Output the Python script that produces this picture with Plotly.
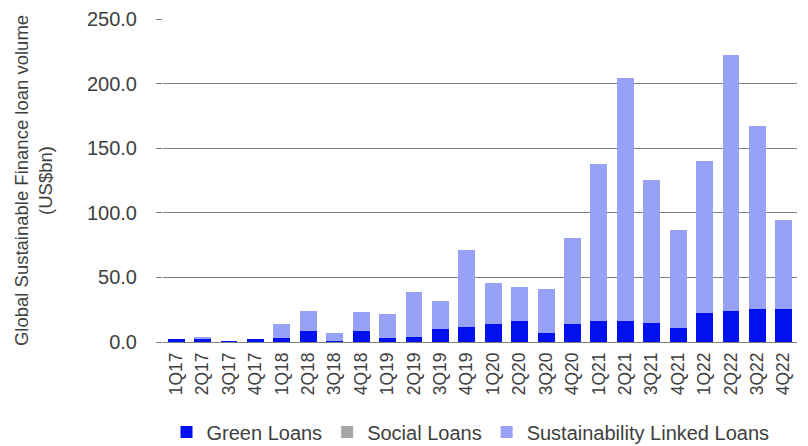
import plotly.graph_objects as go

quarters = ["1Q17", "2Q17", "3Q17", "4Q17", "1Q18", "2Q18", "3Q18", "4Q18",
            "1Q19", "2Q19", "3Q19", "4Q19", "1Q20", "2Q20", "3Q20", "4Q20",
            "1Q21", "2Q21", "3Q21", "4Q21", "1Q22", "2Q22", "3Q22", "4Q22"]

green_loans = [2.3, 2.5, 0.3, 2.3, 3.1, 8.5, 0.5, 8.5,
               3.0, 4.0, 10.3, 12.0, 14.2, 16.0, 6.7, 14.2,
               16.0, 16.0, 15.0, 11.0, 22.2, 24.2, 25.8, 25.8]

social_loans = [0.0] * 24

sll_loans = [0.0, 1.1, 0.0, 0.0, 10.9, 15.5, 6.2, 14.7,
             19.0, 34.7, 21.2, 59.0, 31.7, 26.3, 34.6, 66.0,
             121.5, 188.0, 110.4, 75.7, 117.8, 198.2, 141.4, 68.4]

y_ticks = [0, 50, 100, 150, 200, 250]
y_tick_labels = ["0.0", "50.0", "100.0", "150.0", "200.0", "250.0"]

font_family = "Liberation Sans, Arial, sans-serif"
text_color = "#404040"

fig = go.Figure()
fig.add_trace(go.Bar(name="Green Loans", x=quarters, y=green_loans,
                     marker=dict(color="#0010EE", line=dict(width=0))))
fig.add_trace(go.Bar(name="Social Loans", x=quarters, y=social_loans,
                     marker=dict(color="#A6A6A6", line=dict(width=0))))
fig.add_trace(go.Bar(name="Sustainability Linked Loans", x=quarters, y=sll_loans,
                     marker=dict(color="#97A2F7", line=dict(width=0))))

# page body has an 8px default margin; size the figure to fit the window
fig.update_layout(
    barmode="stack",
    bargap=0.36,
    width=800, height=438,
    margin=dict(l=155, r=11, t=11, b=104, autoexpand=False),
    paper_bgcolor="white", plot_bgcolor="white",
    font=dict(family=font_family, color=text_color, size=18),
    showlegend=True,
    legend=dict(orientation="h", x=0.485, xanchor="center", y=-0.279, yanchor="middle",
                font=dict(size=20, color=text_color), traceorder="normal",
                itemwidth=30, bgcolor="rgba(0,0,0,0)"),
    xaxis=dict(tickangle=-90, tickfont=dict(size=17.5, color=text_color),
               showgrid=False, showline=False, ticks="", type="category",
               ticklabelstandoff=6, automargin=False),
    yaxis=dict(range=[0, 250], tickvals=y_ticks, ticktext=y_tick_labels,
               tickfont=dict(size=20, color=text_color),
               showgrid=True, gridcolor="#7F7F7F", gridwidth=1,
               zeroline=True, zerolinecolor="#7F7F7F", zerolinewidth=1,
               ticks="outside", ticklen=6, tickcolor="#7F7F7F",
               ticklabelstandoff=15, automargin=False,
               title=dict(text="Global Sustainable Finance loan volume<br>(US$bn)",
                          font=dict(size=18.5, color=text_color), standoff=29)),
)

fig.write_html("out.html")
